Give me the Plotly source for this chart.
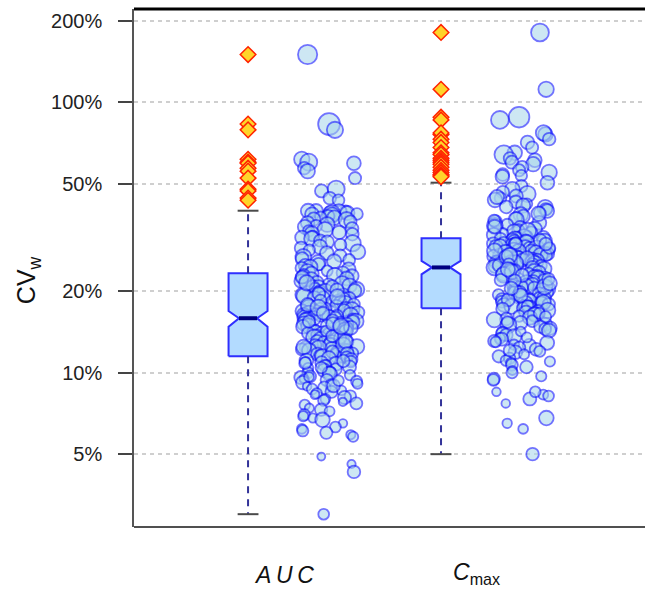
import numpy as np
import plotly.graph_objects as go

# ---------------------------------------------------------------------------
# Data: within-subject coefficients of variation (%) per study, with study size
# ---------------------------------------------------------------------------
categories = ["AUC", "Cmax"]

auc_cv = [
    150, 83, 79, 61.5, 60, 59.5, 57, 55.6, 52.4, 47.7, 47.0, 44.2, 43.4,
    39.7, 39.6, 39.4, 39.3, 39.1, 38.9, 38.8, 38.6, 38.5, 38.3, 37.9, 37.6, 37.4, 37.0, 36.7, 36.2, 35.8, 35.3, 34.9, 34.6,
    34.1, 33.7, 33.4, 33.0, 32.7, 32.5, 32.0, 31.6, 31.3, 30.8, 30.4, 30.1, 29.7, 29.2, 28.9, 28.4, 28.0, 27.7, 27.1, 26.8,
    26.4, 26.1, 25.8, 25.5, 25.2, 24.9, 24.6, 24.4, 24.1, 23.8, 23.6, 23.4,
    23.2, 23.0, 22.8, 22.8, 22.5, 22.3, 22.1, 21.9, 21.8, 21.6, 21.3, 21.2, 21.0, 20.8, 20.7, 20.5, 20.3, 20.1, 20.0, 19.9,
    19.7, 19.5, 19.4, 19.2, 19.0, 18.9, 18.8, 18.6, 18.4, 18.3, 18.2, 18.0, 17.9, 17.7, 17.6, 17.5, 17.3, 17.2, 17.1, 17.0,
    16.9, 16.9, 16.8, 16.7, 16.6, 16.5, 16.4, 16.4, 16.3, 16.2, 16.2, 16.1, 16.0, 16.0, 15.9,
    22.6, 21.5, 20.9, 20.2, 19.6, 19.1, 18.5, 17.8, 17.4, 16.6,
    15.8, 15.7, 15.7, 15.6, 15.5, 15.4, 15.3, 15.2, 15.1, 15.0, 14.9, 14.9, 14.8, 14.7, 14.6, 14.5, 14.4, 14.3, 14.2, 14.1,
    14.0, 13.9, 13.9, 13.8, 13.7, 13.6, 13.5, 13.4, 13.3, 13.2, 13.1, 13.0, 12.9, 12.9, 12.8, 12.7, 12.6, 12.5, 12.4, 12.3,
    12.3, 12.2, 12.1, 12.0, 12.0, 11.9, 11.8, 11.8, 11.7, 11.6, 11.6, 11.5, 11.5, 15.45, 14.65, 13.45, 12.65, 11.95, 13.05, 14.25,
    15.15, 12.45, 13.65, 11.75, 14.85,
    11.4, 11.3, 11.2, 11.1, 11.0, 10.9, 10.9, 10.8, 10.7, 10.6, 10.5, 10.4, 10.3, 10.2, 10.1, 10.0, 10.0, 9.9, 9.8, 9.7,
    9.6, 9.5, 9.4, 9.3, 9.2, 9.1, 9.0, 8.9, 8.8, 8.7, 8.6, 8.5, 8.4, 8.3, 8.2, 8.1, 8.0, 7.9, 7.8, 7.7,
    7.6, 7.4, 7.3, 7.2, 7.0, 6.9, 6.8, 6.7, 6.5, 6.3, 6.2, 6.1, 6.0, 5.9, 5.8,
    4.9, 4.6, 4.3, 3.0, 11.05, 10.45, 9.65, 8.95, 10.85, 9.35,
]

auc_subjects = [
    70, 90, 50, 45, 55, 36, 30, 40, 28, 55, 32, 30, 26, 34, 40, 28, 45, 30, 38, 52,
    26, 36, 44, 30, 24, 40, 33, 48, 29, 35, 42, 27, 38, 31, 46, 25, 34, 40, 30, 22,
    36, 44, 28, 33, 50, 26, 39, 31, 24, 42, 35, 29, 47, 32, 27, 38, 45, 30, 34, 41,
    28, 36, 23, 44, 31, 39, 26, 48, 33, 29, 37, 42, 25, 35, 30, 46, 27, 40, 32, 38,
    24, 43, 34, 29, 50, 31, 26, 38, 45, 28, 36, 33, 41, 22, 39, 30, 47, 27, 35, 32,
    40, 25, 37, 44, 29, 34, 52, 28, 31, 42, 26, 38, 33, 46, 30, 24, 36, 41, 27, 39,
    32, 45, 28, 35, 30, 43, 26, 37, 49, 31, 24, 40, 34, 29, 44, 36, 27, 38, 33, 25,
    42, 30, 36, 28, 47, 33, 39, 26, 35, 41, 29, 44, 31, 23, 37, 34, 48, 27, 40, 32,
    28, 38, 34, 45, 25, 36, 31, 42, 29, 50, 33, 27, 39, 35, 43, 30, 26, 37, 32, 46,
    24, 34, 40, 29, 36, 27, 44, 31, 38, 22, 35, 41, 28, 33, 47, 26, 39, 30, 36, 25,
    31, 22, 37, 18, 28, 33, 20, 26, 35, 17, 30, 24, 39, 21, 27, 32, 16, 29, 23, 34,
    19, 26, 14, 30, 22, 17, 28, 20, 15, 25, 32, 18, 23, 13, 27, 21, 16, 29, 19, 24,
    20, 16, 40, 14, 22, 18, 24, 28, 16, 20, 12, 13, 30, 22, 30, 25, 18, 32, 27, 21,
]

cmax_cv = [
    181, 111.6, 88, 86, 76, 77, 73, 71, 68, 65, 64, 62, 61, 60, 59, 57.5, 56, 55, 54, 53.5, 53,
    50.4, 49.0, 47.6, 46.5, 45.8, 45.0, 44.2, 43.5, 42.8, 42.1, 41.5, 40.8, 40.2, 39.6, 39.0, 38.4, 37.9, 37.3, 36.8, 36.2,
    35.8, 35.3, 34.9, 34.4, 34.0, 33.6, 33.2, 32.9, 32.6, 32.3, 32.0, 31.8, 31.6, 31.5, 38.7, 36.5, 34.7, 33.4, 41.0, 44.6,
    31.3, 31.2, 31.0, 30.8, 30.7, 30.5, 30.3, 30.2, 30.0, 29.8, 29.7, 29.5, 29.3, 29.1, 29.0, 28.8, 28.6, 28.5, 28.3, 28.1,
    28.0, 27.8, 27.7, 27.5, 27.3, 27.2, 27.0, 26.9, 26.7, 26.6, 26.4, 26.3, 26.1, 26.0, 25.9, 25.7, 25.6, 25.5, 25.3, 25.2,
    25.1, 25.0, 24.9, 24.8, 24.7, 24.6, 24.5, 30.9, 29.4, 28.9, 27.9, 27.4, 26.5, 25.8, 25.4, 24.95, 30.1, 28.2, 26.8, 29.9,
    27.1, 25.15,
    24.4, 24.2, 24.0, 23.9, 23.7, 23.5, 23.3, 23.2, 23.0, 22.8, 22.6, 22.5, 22.3, 22.1, 22.0, 21.8, 21.7, 21.5, 21.3, 21.2,
    21.0, 20.9, 20.7, 20.6, 20.4, 20.3, 20.1, 20.0, 19.8, 19.7, 19.5, 19.4, 19.2, 19.1, 18.9, 18.8, 18.7, 18.5, 18.4, 18.3,
    18.1, 18.0, 17.9, 17.8, 17.7, 17.6, 17.5, 17.4, 17.3, 23.6, 22.9, 21.9, 20.8, 19.9, 19.3, 18.6, 24.1, 22.2, 20.5, 18.2,
    17.65, 21.4,
    17.2, 17.0, 16.9, 16.7, 16.5, 16.4, 16.2, 16.0, 15.8, 15.7, 15.5, 15.3, 15.1, 15.0, 14.8, 14.6, 14.5, 14.3, 14.1, 13.9,
    13.8, 13.6, 13.4, 13.3, 13.1, 12.9, 12.7, 12.6, 12.4, 12.2, 12.0, 11.9, 11.7, 11.5, 11.3, 11.1, 10.9, 10.7, 10.5, 10.2,
    10.0, 9.7, 9.5, 9.4, 8.5, 8.3, 8.0, 8.5, 8.2, 7.7, 6.8, 6.5, 6.2, 5.0,
    16.6, 15.4, 14.2, 13.0, 12.1, 11.0, 16.1, 13.5,
]

cmax_subjects = [
    60, 45, 80, 60, 40, 45, 30, 35, 28, 40, 65, 30, 35, 32, 40, 30, 28, 45, 30, 25,
    35, 36, 28, 42, 30, 50, 33, 26, 40, 31, 22, 38, 45, 29, 35, 24, 41, 32, 27, 44,
    30, 36, 25, 48, 33, 39, 28, 42, 31, 26, 37, 20, 45, 34, 29, 40, 27, 35, 52, 31,
    38, 26, 44, 32, 29, 41, 35, 24, 47, 30, 36, 28, 43, 33, 39, 25, 50, 31, 37, 27,
    42, 34, 29, 46, 31, 38, 26, 44, 35, 30, 40, 27, 48, 33, 36, 24, 41, 32, 29, 45,
    28, 39, 34, 25, 43, 31, 37, 47, 30, 35, 26, 41, 33, 38, 29, 50, 32, 27, 44, 36,
    31, 45, 27, 36, 40, 33, 28, 42, 35, 24, 38, 46, 30, 34, 26, 43, 37, 29, 39, 32,
    44, 30, 35, 26, 41, 37, 29, 48, 33, 27, 39, 31, 45, 36, 25, 42, 34, 30, 38, 28,
    36, 40, 27, 33, 46, 29, 35, 24, 43, 31, 38, 26, 41, 34, 30, 47, 28, 37, 32, 39,
    29, 34, 42, 26, 37, 31, 45, 28, 36, 33, 40, 25, 39, 30, 44, 27, 35, 32, 48, 30,
    33, 27, 38, 24, 35, 30, 41, 22, 32, 28, 37, 20, 34, 26, 31, 23, 36, 19, 29, 25,
    22, 18, 27, 30, 16, 24, 20, 28, 26, 14, 19, 32, 22, 22, 14, 40, 17, 18, 30, 23,
    26, 18, 22, 28, 20, 24, 19,
]

# Box statistics (%): lower whisker, Q1, median, Q3, upper whisker, notch limits
auc_box = dict(low=3.0, q1=11.5, med=15.9, q3=23.3, high=39.7, notch=(14.8, 16.9))
cmax_box = dict(low=5.0, q1=17.3, med=24.5, q3=31.4, high=50.4, notch=(23.1, 25.9))

y_ticks = [5, 10, 20, 50, 100, 200]
y_tick_text = ["5%", "10%", "20%", "50%", "100%", "200%"]

# ---------------------------------------------------------------------------
# Styling
# ---------------------------------------------------------------------------
FONT = "Liberation Sans, Arial, sans-serif"
BOX_HALF = 0.101      # half width of a box (x units)
NOTCH_HALF = 0.047    # half width of the box at the median
CAP_HALF = 0.054      # half width of whisker caps
CLOUD_OFFSET = 0.42   # study points sit to the right of each box
JITTER = 0.15

groups = [
    (1, auc_cv, auc_subjects, auc_box),
    (2, cmax_cv, cmax_subjects, cmax_box),
]

rng = np.random.default_rng(11)
fig = go.Figure()

for center, cv, subj, st in groups:
    cv = np.asarray(cv, dtype=float)
    subj = np.asarray(subj, dtype=float)

    # notched box outline
    nlo, nhi = st["notch"]
    L, R = center - BOX_HALF, center + BOX_HALF
    xs = [L, L, center - NOTCH_HALF, L, L, R, R, center + NOTCH_HALF, R, R, L]
    ys = [st["q1"], nlo, st["med"], nhi, st["q3"], st["q3"], nhi, st["med"], nlo, st["q1"], st["q1"]]
    fig.add_trace(go.Scatter(
        x=xs, y=ys, mode="lines", fill="toself",
        fillcolor="#b3dbff", line=dict(color="#2f2fff", width=2),
        hoverinfo="skip"))

    # median
    fig.add_trace(go.Scatter(
        x=[center - NOTCH_HALF, center + NOTCH_HALF], y=[st["med"], st["med"]],
        mode="lines", line=dict(color="#000080", width=4), hoverinfo="skip"))

    # dashed whiskers
    for a, b in ((st["q3"], st["high"]), (st["q1"], st["low"])):
        fig.add_trace(go.Scatter(
            x=[center, center], y=[a, b], mode="lines",
            line=dict(color="#333399", width=2, dash="7px,6px"), hoverinfo="skip"))

    # whisker caps
    for v in (st["high"], st["low"]):
        fig.add_trace(go.Scatter(
            x=[center - CAP_HALF, center + CAP_HALF], y=[v, v], mode="lines",
            line=dict(color="#4a4a4a", width=2), hoverinfo="skip"))

    # jittered study points, sized by number of subjects
    jit = rng.uniform(-JITTER, JITTER, cv.size)
    fig.add_trace(go.Scatter(
        x=center + CLOUD_OFFSET + jit, y=cv, mode="markers",
        marker=dict(size=2.3 * np.sqrt(subj), color="rgba(168,214,235,0.8)",
                    line=dict(color="rgba(10,10,255,0.8)", width=1.8)),
        hovertemplate="%{y:.1f}%<extra></extra>"))

    # outliers beyond the upper whisker
    out = cv[cv > st["high"]]
    fig.add_trace(go.Scatter(
        x=np.full(out.size, center), y=out, mode="markers",
        marker=dict(symbol="diamond", size=12, color="#ffd42a",
                    line=dict(color="#ff2200", width=1.5)),
        hovertemplate="%{y:.1f}%<extra></extra>"))

# category labels under the axis
fig.add_annotation(x=1 + 0.185, y=0, xref="x", yref="paper", yanchor="middle", yshift=-48,
                   text="<i>A\u2009U\u2009C</i>", showarrow=False,
                   font=dict(family=FONT, size=23, color="#111"))
fig.add_annotation(x=2 + 0.185, y=0, xref="x", yref="paper", yanchor="middle", yshift=-46,
                   text="<i>C</i><sub>max</sub>", showarrow=False,
                   font=dict(family=FONT, size=23, color="#111"))

# y-axis title
fig.add_annotation(x=-0.207, y=0.477, xref="paper", yref="paper",
                   xanchor="center", yanchor="middle", textangle=-90,
                   text="CV<sub>w</sub>", showarrow=False,
                   font=dict(family=FONT, size=25, color="#111"))

# frame: heavy top rule, bottom rule
fig.add_shape(type="line", xref="paper", yref="paper", x0=0, x1=1, y0=1, y1=1,
              line=dict(color="#000", width=3), layer="above")
fig.add_shape(type="line", xref="paper", yref="paper", x0=0, x1=1, y0=0, y1=0,
              line=dict(color="#505050", width=2), layer="above")

fig.update_layout(
    width=645, height=590,
    margin=dict(l=134, r=0, t=9, b=63),
    plot_bgcolor="white", paper_bgcolor="white",
    showlegend=False,
    font=dict(family=FONT),
    xaxis=dict(range=[0.409, 3.057], showticklabels=False, showgrid=False,
               zeroline=False, showline=False, ticks=""),
    yaxis=dict(type="log", range=[np.log10(2.69), np.log10(221)],
               tickvals=y_ticks, ticktext=y_tick_text,
               ticks="outside", ticklen=14, tickwidth=1.5, tickcolor="#444",
               ticklabelstandoff=12,
               tickfont=dict(family=FONT, size=20, color="#222"),
               showline=True, linecolor="#555", linewidth=1.5,
               showgrid=True, gridcolor="#cfcfcf", gridwidth=2, griddash="4px,4px",
               zeroline=False),
)

fig.write_html("out.html")
